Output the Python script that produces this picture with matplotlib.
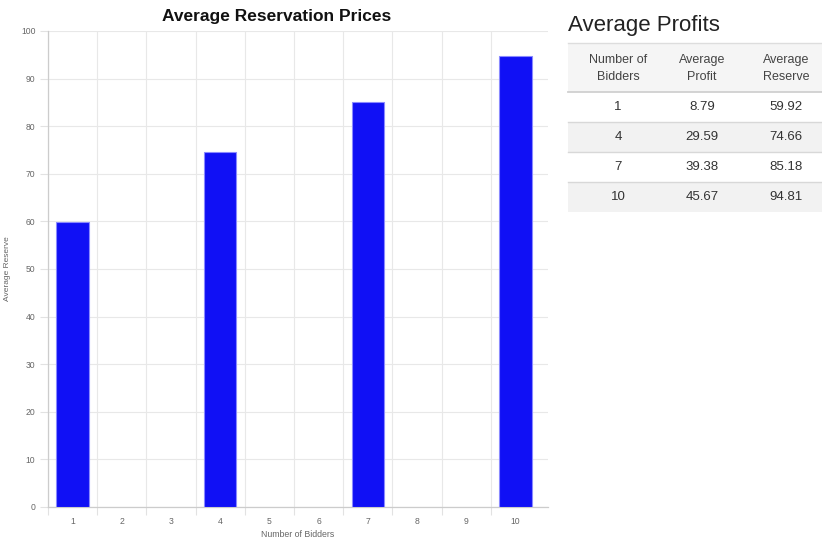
import matplotlib
matplotlib.use("Agg")
import matplotlib.pyplot as plt
from matplotlib.patches import Rectangle

plt.rcParams['font.family'] = ['Liberation Sans', 'DejaVu Sans']

categories = list(range(1, 11))
bidders = [1, 4, 7, 10]
avg_profit = [8.79, 29.59, 39.38, 45.67]
avg_reserve = [59.92, 74.66, 85.18, 94.81]
chart_title = "Average Reservation Prices"
table_title = "Average Profits"
col_headers = ["Number of\nBidders", "Average\nProfit", "Average\nReserve"]

W, H = 822, 540
fig = plt.figure(figsize=(W / 100, H / 100), dpi=100)

# ---- bar chart ----
ax_left, ax_right = 48, 548
band = 49.2
ax = fig.add_axes([ax_left / W, 1 - 507 / H, (ax_right - ax_left) / W, (507 - 31) / H])
pos = [categories.index(b) for b in bidders]
ax.bar(pos, avg_reserve, width=0.66, color='#1010f5', edgecolor='#8a8aff', linewidth=0.8, zorder=3)
ax.set_xlim(-0.5, -0.5 + (ax_right - ax_left) / band)
ax.set_ylim(0, 100)
ax.set_yticks(range(0, 101, 10))
ax.set_xticks(range(len(categories)))
ax.set_xticklabels([str(c) for c in categories])
ax.set_xticks([i - 0.5 for i in range(len(categories))], minor=True)
ax.tick_params(axis='x', which='major', length=0, labelsize=6.2, labelcolor='#666666', pad=7)
ax.tick_params(axis='x', which='minor', length=6, color='#e2e2e2', width=0.8)
ax.tick_params(axis='y', length=6, color='#e2e2e2', width=0.8, labelsize=6.2, labelcolor='#666666', pad=3)
ax.grid(True, axis='y', color='#e8e8e8', linewidth=0.8, zorder=0)
ax.grid(True, axis='x', which='minor', color='#e8e8e8', linewidth=0.8, zorder=0)
for s in ['top', 'right']:
    ax.spines[s].set_visible(False)
for s in ['left', 'bottom']:
    ax.spines[s].set_color('#cccccc')
    ax.spines[s].set_linewidth(0.9)
ax.set_xlabel("Number of Bidders", fontsize=6.3, color='#666666', labelpad=3)
ax.set_ylabel("Average Reserve", fontsize=6.0, color='#666666', labelpad=7)
fig.text(277 / W, 1 - 16 / H, chart_title, ha='center', va='center', fontsize=12.5, fontweight='bold', color='#111111')

# ---- table ----
tx = fig.add_axes([0, 0, 1, 1])
tx.set_xlim(0, W)
tx.set_ylim(H, 0)
tx.axis('off')
tx.patch.set_alpha(0)
left, right = 568, 822
tx.text(left, 26, table_title, fontsize=16, color='#222222', va='center', ha='left')
header_top, header_bot, row_h = 43, 92, 30
col_x = [618, 702, 786]
tx.add_patch(Rectangle((left, header_top), right - left, header_bot - header_top, color='#f5f5f5', lw=0))
for j, h in enumerate(col_headers):
    tx.text(col_x[j], (header_top + header_bot) / 2 + 1, h, ha='center', va='center', fontsize=9.0,
            color='#444444', linespacing=1.45)
tx.plot([left, right], [header_top, header_top], color='#dddddd', lw=1)
tx.plot([left, right], [header_bot, header_bot], color='#d0d0d0', lw=1.3)
for i in range(len(bidders)):
    y0 = header_bot + i * row_h
    if i % 2 == 1:
        tx.add_patch(Rectangle((left, y0), right - left, row_h, color='#f2f2f2', lw=0))
    vals = [str(bidders[i]), f"{avg_profit[i]:.2f}", f"{avg_reserve[i]:.2f}"]
    for j, v in enumerate(vals):
        tx.text(col_x[j], y0 + row_h / 2, v, ha='center', va='center', fontsize=9.5, color='#333333')
    if i < len(bidders) - 1:
        tx.plot([left, right], [y0 + row_h, y0 + row_h], color='#d8d8d8', lw=1)

fig.savefig("out.png", dpi=100)
